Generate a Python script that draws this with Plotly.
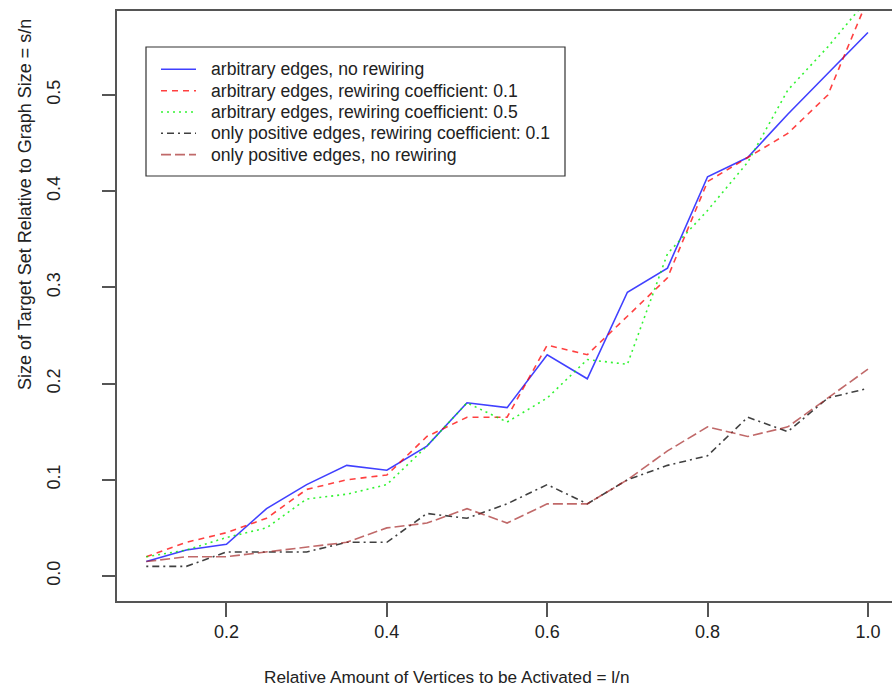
import plotly.graph_objects as go

# ---- data ----
x_vals = [0.10, 0.15, 0.20, 0.25, 0.30, 0.35, 0.40, 0.45, 0.50, 0.55,
          0.60, 0.65, 0.70, 0.75, 0.80, 0.85, 0.90, 0.95, 1.00]

arb_no_rewire = [0.015, 0.027, 0.033, 0.070, 0.095, 0.115, 0.110, 0.135, 0.180, 0.175,
                 0.230, 0.205, 0.295, 0.320, 0.415, 0.435, 0.480, 0.523, 0.565]
arb_rewire_01 = [0.020, 0.035, 0.045, 0.060, 0.090, 0.100, 0.105, 0.145, 0.165, 0.165,
                 0.240, 0.230, 0.270, 0.310, 0.410, 0.435, 0.460, 0.500, 0.600]
arb_rewire_05 = [0.020, 0.027, 0.040, 0.050, 0.080, 0.085, 0.095, 0.135, 0.180, 0.160,
                 0.185, 0.225, 0.220, 0.335, 0.380, 0.430, 0.505, 0.550, 0.600]
pos_rewire_01 = [0.010, 0.010, 0.025, 0.025, 0.025, 0.035, 0.035, 0.065, 0.060, 0.075,
                 0.095, 0.075, 0.100, 0.115, 0.125, 0.165, 0.150, 0.185, 0.195]
pos_no_rewire = [0.015, 0.020, 0.020, 0.025, 0.030, 0.035, 0.050, 0.055, 0.070, 0.055,
                 0.075, 0.075, 0.100, 0.130, 0.155, 0.145, 0.155, 0.185, 0.215]

series_names = [
    "arbitrary edges, no rewiring",
    "arbitrary edges, rewiring coefficient: 0.1",
    "arbitrary edges, rewiring coefficient: 0.5",
    "only positive edges, rewiring coefficient: 0.1",
    "only positive edges, no rewiring",
]
series_values = [arb_no_rewire, arb_rewire_01, arb_rewire_05, pos_rewire_01, pos_no_rewire]

x_ticks = [0.2, 0.4, 0.6, 0.8, 1.0]
y_ticks = [0.0, 0.1, 0.2, 0.3, 0.4, 0.5]

x_title = "Relative Amount of Vertices to be Activated = l/n"
y_title = "Size of Target Set Relative to Graph Size = s/n"

# ---- styles ----
colors = ["rgba(0,0,255,0.75)", "rgba(255,0,0,0.75)", "rgba(0,240,0,0.8)",
          "rgba(0,0,0,0.75)", "rgba(165,42,42,0.7)"]
dashes = ["solid", "6px,5px", "2px,4px", "2px,4px,7px,4px", "10px,4px"]

FONT = "Liberation Sans, Arial, Helvetica, sans-serif"
AXC = "#555555"
TXT = "#222222"

W, H = 892, 692
L, R, T, B = 117, 0, 11, 91
PW, PH = W - L - R, H - T - B


def px(xp):
    return (xp - L) / PW


def py(yp):
    return (H - B - yp) / PH


fig = go.Figure()
for name, vals, c, d in zip(series_names, series_values, colors, dashes):
    fig.add_trace(go.Scatter(x=x_vals, y=vals, mode="lines", name=name,
                             line=dict(color=c, width=1.6, dash=d)))

# legend drawn as a boxed key (R-style legend)
shapes = [dict(type="rect", xref="paper", yref="paper",
               x0=px(146), x1=px(565), y0=py(47), y1=py(176),
               line=dict(color="#333333", width=1.2), fillcolor="white", layer="above")]
annotations = []
row_y = [69.3, 90.7, 112.0, 133.3, 154.6]
for name, c, d, ry in zip(series_names, colors, dashes, row_y):
    shapes.append(dict(type="line", xref="paper", yref="paper",
                       x0=px(161), x1=px(196), y0=py(ry), y1=py(ry),
                       line=dict(color=c, width=1.6, dash=d), layer="above"))
    annotations.append(dict(text=name, xref="paper", yref="paper",
                            x=px(209), y=py(ry), xanchor="left", yanchor="middle",
                            showarrow=False,
                            font=dict(family=FONT, size=17.6, color=TXT)))

annotations += [
    dict(text=x_title, xref="paper", yref="paper",
         x=px(446), y=py(677), xanchor="center", yanchor="middle", showarrow=False,
         font=dict(family=FONT, size=17.2, color=TXT)),
    dict(text=y_title, xref="paper", yref="paper",
         x=px(25), y=py(205), xanchor="center", yanchor="middle", showarrow=False,
         textangle=-90, font=dict(family=FONT, size=18, color=TXT)),
]

fig.update_layout(
    width=W, height=H,
    margin=dict(l=L, r=R, t=T, b=B, pad=0),
    paper_bgcolor="white", plot_bgcolor="white",
    font=dict(family=FONT, size=18, color=TXT),
    showlegend=False,
    xaxis=dict(
        range=[0.0635, 1.030], tickvals=x_ticks, tickformat=".1f",
        showgrid=False, zeroline=False,
        showline=True, linecolor=AXC, linewidth=1.5, mirror=True,
        ticks="outside", ticklen=14, tickwidth=1.5, tickcolor=AXC,
        tickfont=dict(size=18, color=TXT),
    ),
    yaxis=dict(
        range=[-0.026, 0.5873], tickvals=y_ticks, tickformat=".1f",
        showgrid=False, zeroline=False,
        showline=True, linecolor=AXC, linewidth=1.5, mirror=False,
        ticks="outside", ticklen=13, tickwidth=1.5, tickcolor=AXC,
        tickangle=-90, ticklabelstandoff=35,
        tickfont=dict(size=18, color=TXT),
    ),
    shapes=shapes,
    annotations=annotations,
)

fig.write_html("out.html")
